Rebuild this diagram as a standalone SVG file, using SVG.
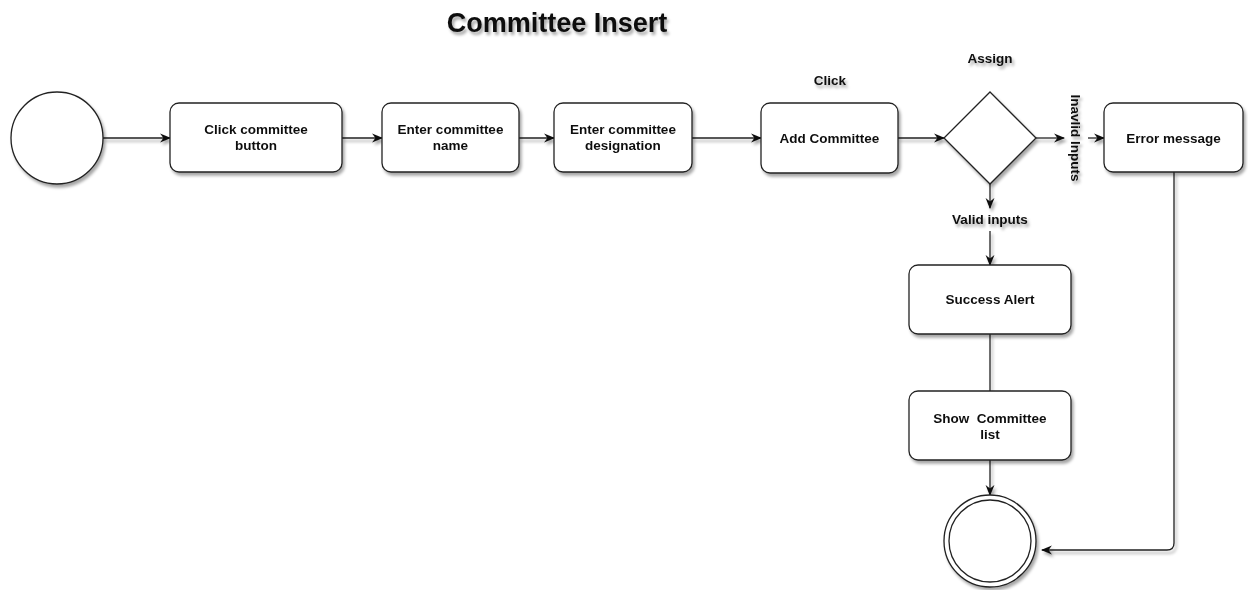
<svg xmlns="http://www.w3.org/2000/svg" width="1248" height="590" viewBox="0 0 1248 590">
  <defs>
    <filter id="shadow" x="-20%" y="-20%" width="140%" height="140%">
      <feDropShadow dx="2" dy="3" stdDeviation="1.5" flood-color="#000" flood-opacity="0.35"/>
    </filter>
    <marker id="arrow" viewBox="0 0 10 10" refX="9" refY="5" markerWidth="11" markerHeight="11" markerUnits="userSpaceOnUse" orient="auto">
      <path d="M0,1 L10,5 L0,9 L3,5 Z" fill="#111"/>
    </marker>
    <style>
      .node { fill: #fff; stroke: #222; stroke-width: 1.3; }
      .lbl { font-family: "Liberation Sans", Arial, sans-serif; font-weight: bold; font-size: 13.5px; fill: #111; text-anchor: middle; white-space: pre; }
      .title { font-family: "Liberation Sans", Arial, sans-serif; font-weight: bold; font-size: 27px; fill: #111; text-anchor: middle; }
      .edge { fill: none; stroke: #222; stroke-width: 1.3; }
    </style>
  </defs>
  <rect width="1248" height="590" fill="#fff"/>

  <g filter="url(#shadow)">
    <text class="title" x="557" y="32">Committee Insert</text>
  </g>

  <!-- connectors -->
  <g id="connectors" filter="url(#shadow)">
    <path class="edge" d="M103,138 L170,138" marker-end="url(#arrow)"/>
    <path class="edge" d="M342,138 L382,138" marker-end="url(#arrow)"/>
    <path class="edge" d="M519,138 L554,138" marker-end="url(#arrow)"/>
    <path class="edge" d="M692,138 L761,138" marker-end="url(#arrow)"/>
    <path class="edge" d="M898,138 L944,138" marker-end="url(#arrow)"/>
    <path class="edge" d="M1036,138 L1064,138" marker-end="url(#arrow)"/>
    <path class="edge" d="M1088,138 L1104,138" marker-end="url(#arrow)"/>
    <path class="edge" d="M990,184 L990,208" marker-end="url(#arrow)"/>
    <path class="edge" d="M990,231 L990,265" marker-end="url(#arrow)"/>
    <path class="edge" d="M990,334 L990,391"/>
    <path class="edge" d="M990,460 L990,495" marker-end="url(#arrow)"/>
    <path class="edge" d="M1174,172 L1174,543 Q1174,550 1167,550 L1042,550" marker-end="url(#arrow)"/>
  </g>

  <!-- edge labels -->
  <g id="edge-labels" filter="url(#shadow)">
    <text class="lbl" x="830" y="85">Click</text>
    <text class="lbl" x="990" y="63">Assign</text>
    <text class="lbl" x="990" y="224">Valid inputs</text>
    <text class="lbl" transform="translate(1071,138) rotate(90)" y="0">Inavlid Inputs</text>
  </g>

  <g id="start" filter="url(#shadow)">
    <circle class="node" cx="57" cy="138" r="46"/>
  </g>

  <g id="click-button" filter="url(#shadow)">
    <rect class="node" x="170" y="103" width="172" height="69" rx="9"/>
    <text class="lbl" x="256" y="134">Click committee</text>
    <text class="lbl" x="256" y="150">button</text>
  </g>

  <g id="enter-name" filter="url(#shadow)">
    <rect class="node" x="382" y="103" width="137" height="69" rx="9"/>
    <text class="lbl" x="450.5" y="134">Enter committee</text>
    <text class="lbl" x="450.5" y="150">name</text>
  </g>

  <g id="enter-designation" filter="url(#shadow)">
    <rect class="node" x="554" y="103" width="138" height="69" rx="9"/>
    <text class="lbl" x="623" y="134">Enter committee</text>
    <text class="lbl" x="623" y="150">designation</text>
  </g>

  <g id="add-committee" filter="url(#shadow)">
    <rect class="node" x="761" y="103" width="137" height="70" rx="9"/>
    <text class="lbl" x="829.5" y="143">Add Committee</text>
  </g>

  <g id="decision" filter="url(#shadow)">
    <polygon class="node" points="990,92 1036,138 990,184 944,138"/>
  </g>

  <g id="error-message" filter="url(#shadow)">
    <rect class="node" x="1104" y="103" width="139" height="69" rx="9"/>
    <text class="lbl" x="1173.5" y="143">Error message</text>
  </g>

  <g id="success-alert" filter="url(#shadow)">
    <rect class="node" x="909" y="265" width="162" height="69" rx="9"/>
    <text class="lbl" x="990" y="304">Success Alert</text>
  </g>

  <g id="show-list" filter="url(#shadow)">
    <rect class="node" x="909" y="391" width="162" height="69" rx="9"/>
    <text class="lbl" x="990" y="423" xml:space="preserve">Show  Committee</text>
    <text class="lbl" x="990" y="439">list</text>
  </g>

  <g id="end" filter="url(#shadow)">
    <circle class="node" cx="990" cy="541" r="46"/>
    <circle class="node" cx="990" cy="541" r="41"/>
  </g>
</svg>
